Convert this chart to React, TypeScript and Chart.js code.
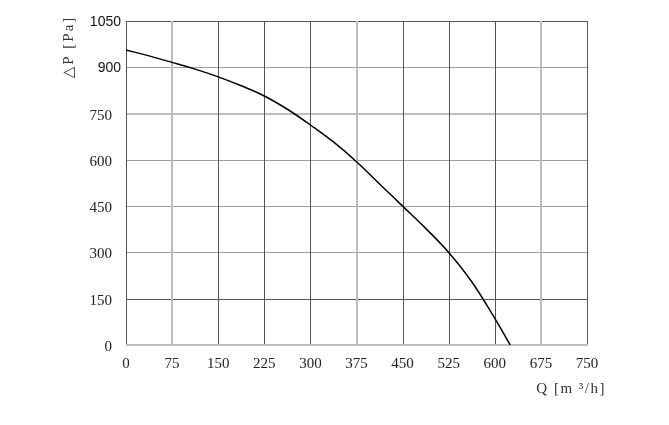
import React, { useEffect, useRef } from "react";
import { Chart, registerables } from "chart.js";

Chart.register(...registerables);

const flowQ = [0, 37.5, 75, 112.5, 150, 187.5, 225, 262.5, 300, 337.5, 375, 412.5, 450, 487.5, 525, 562.5, 600, 625];
const pressure = [956, 937, 916, 894, 869, 840, 807, 764, 713, 658, 594, 522, 450, 378, 300, 205, 86, 0];

const xTicks = [0, 75, 150, 225, 300, 375, 450, 525, 600, 675, 750];
const yTicks = [0, 150, 300, 450, 600, 750, 900, 1050];

const yTitle = "△P [Pa]";
const xTitle = "Q [m ³/h]";

const SERIF = '"Liberation Serif", "DejaVu Serif", serif';
const SANS = '"Liberation Sans", Arial, sans-serif';

const DARK = "#555555";
const LIGHT = "#bdbdbd";
const MID = "#a0a0a0";

const xLight = [75, 375, 675];
const yStyle = (v: number): [string, number] => {
  if (v === 0) return [LIGHT, 2];
  if (v === 150 || v === 1050) return [DARK, 1];
  if (v === 750) return [LIGHT, 2];
  return [MID, 1];
};

const gridPlugin = {
  id: "customGrid",
  beforeDatasetsDraw(chart: any) {
    const ctx = chart.ctx;
    const xs = chart.scales.x;
    const ys = chart.scales.y;
    const a = chart.chartArea;
    const line = (x1: number, y1: number, x2: number, y2: number, color: string, w: number) => {
      ctx.strokeStyle = color;
      ctx.lineWidth = w;
      ctx.beginPath();
      ctx.moveTo(x1, y1);
      ctx.lineTo(x2, y2);
      ctx.stroke();
    };
    const al = (p: number, w: number) => (w % 2 === 1 ? Math.round(p) + 0.5 : Math.round(p));
    ctx.save();
    const top = Math.round(a.top);
    const bottom = Math.round(a.bottom);
    const left = Math.round(a.left);
    const right = Math.round(a.right);
    // horizontal lines
    yTicks.forEach((v) => {
      const [c, w] = yStyle(v);
      const py = al(ys.getPixelForValue(v), w);
      line(left, py, right + 0.5, py, c, w);
    });
    // vertical lines
    xTicks.forEach((v) => {
      const light = xLight.includes(v);
      const w = light ? 2 : 1;
      const px = al(xs.getPixelForValue(v), w);
      line(px, top, px, bottom, light ? LIGHT : DARK, w);
    });
    // redraw bottom border over verticals
    line(left, al(ys.getPixelForValue(0), 2), right + 1, al(ys.getPixelForValue(0), 2), LIGHT, 2);
    ctx.restore();
  },
};

const labelsPlugin = {
  id: "customLabels",
  afterDraw(chart: any) {
    const ctx = chart.ctx;
    const ys = chart.scales.y;
    const area = chart.chartArea;
    ctx.save();
    ctx.textBaseline = "middle";
    ctx.textAlign = "right";
    ys.ticks.forEach((t: any) => {
      const py = ys.getPixelForValue(t.value);
      if (t.value >= 900) {
        ctx.font = `14px ${SANS}`;
        ctx.fillStyle = "#111";
        ctx.fillText(String(t.value), area.left - 5, py + 1);
      } else {
        ctx.font = `15px ${SERIF}`;
        ctx.fillStyle = "#222";
        ctx.fillText(String(t.value), area.left - 14, py + 2);
      }
    });
    // y title
    ctx.save();
    ctx.translate(69, area.top + 26);
    ctx.rotate(-Math.PI / 2);
    ctx.textAlign = "center";
    ctx.font = `15px ${SERIF}`;
    (ctx as any).letterSpacing = "2px";
    ctx.fillStyle = "#333";
    ctx.fillText(yTitle, 0, 0);
    ctx.restore();
    // x title
    ctx.save();
    ctx.textAlign = "right";
    ctx.font = `15px ${SERIF}`;
    (ctx as any).letterSpacing = "1.5px";
    ctx.fillStyle = "#333";
    ctx.fillText(xTitle, area.right + 19, area.bottom + 44);
    ctx.restore();
    ctx.restore();
  },
};

export default function App() {
  const ref = useRef<HTMLCanvasElement | null>(null);
  useEffect(() => {
    if (!ref.current) return;
    const chart = new Chart(ref.current, {
      type: "line",
      data: {
        datasets: [
          {
            data: flowQ.map((q, i) => ({ x: q, y: pressure[i] })),
            borderColor: "#000",
            borderWidth: 1.5,
            pointRadius: 0,
            fill: false,
            tension: 0.4,
          },
        ],
      },
      options: {
        animation: false,
        responsive: true,
        maintainAspectRatio: false,
        layout: { padding: { top: 21, right: 82, left: 0, bottom: 0 } },
        plugins: { legend: { display: false }, tooltip: { enabled: false } },
        scales: {
          x: {
            type: "linear",
            min: 0,
            max: 750,
            afterBuildTicks: (s: any) => {
              s.ticks = xTicks.map((v) => ({ value: v }));
            },
            afterFit: (s: any) => {
              s.height = 80;
            },
            border: { display: false },
            grid: { display: false, drawTicks: false },
            ticks: {
              padding: 10,
              color: "#222",
              font: { family: SERIF, size: 15 },
              maxRotation: 0,
              autoSkip: false,
            },
          },
          y: {
            type: "linear",
            min: 0,
            max: 1050,
            afterBuildTicks: (s: any) => {
              s.ticks = yTicks.map((v) => ({ value: v }));
            },
            afterFit: (s: any) => {
              s.width = 126;
            },
            border: { display: false },
            grid: { display: false, drawTicks: false },
            ticks: { display: false },
          },
        },
      },
      plugins: [gridPlugin, labelsPlugin],
    } as any);
    return () => chart.destroy();
  }, []);
  return (
    <div style={{ position: "fixed", left: 0, top: 0, width: 669, height: 425, background: "#fff" }}>
      <canvas ref={ref} />
    </div>
  );
}
